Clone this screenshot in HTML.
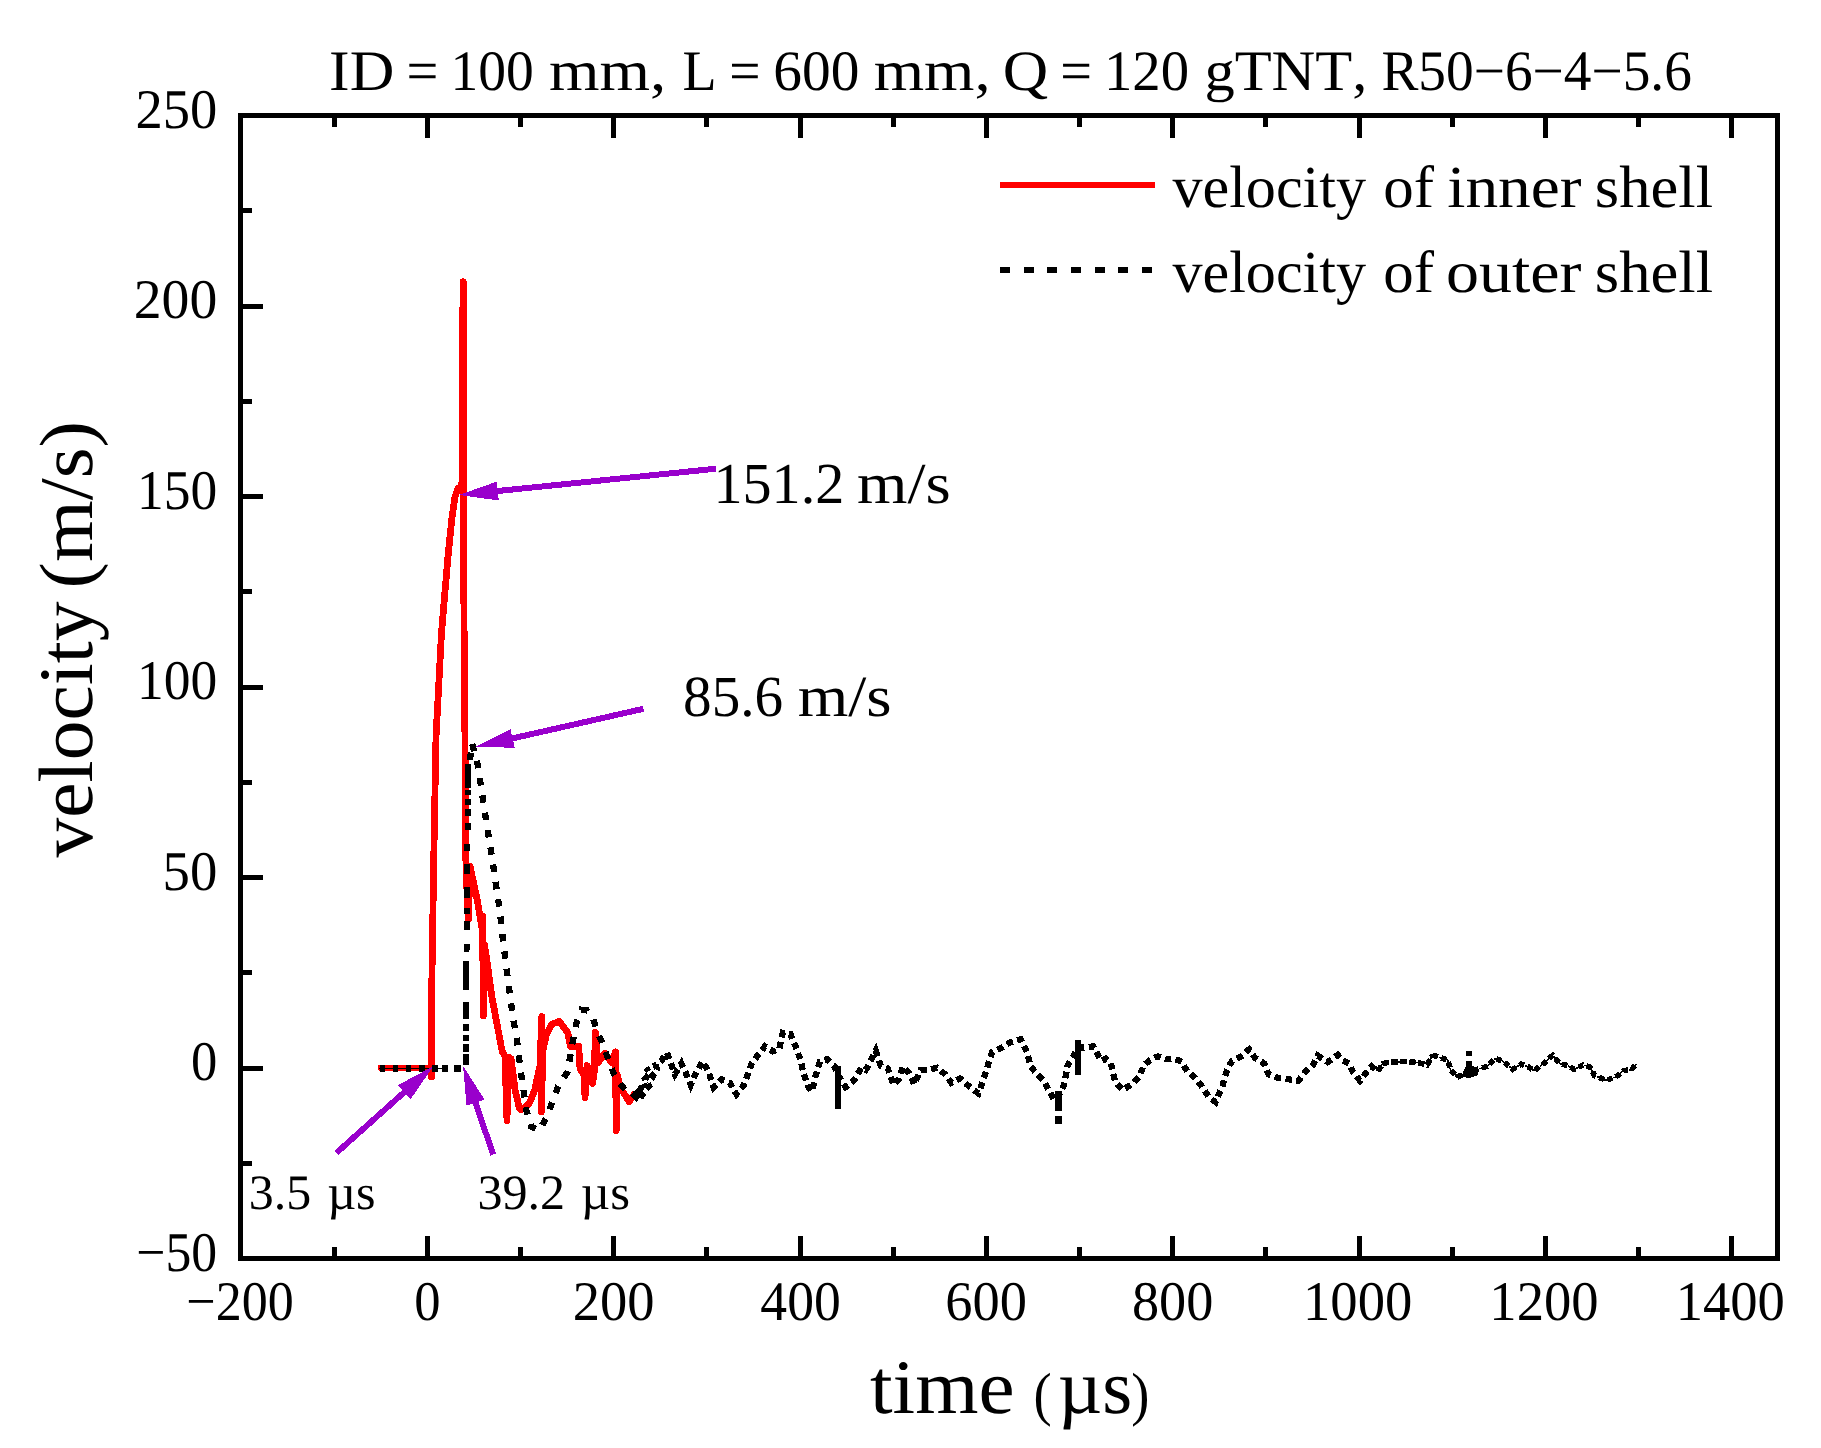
<!DOCTYPE html>
<html lang="en"><head><meta charset="utf-8"><title>Velocity of inner and outer shell</title>
<style>html,body{margin:0;padding:0;background:#fff}body{width:1821px;height:1448px;overflow:hidden}svg{display:block}text{font-family:"Liberation Serif", serif;white-space:pre;font-kerning:none;font-variant-ligatures:none;text-rendering:geometricPrecision}</style>
</head><body>
<svg width="1821" height="1448" viewBox="0 0 1821 1448" shape-rendering="crispEdges">
<rect width="1821" height="1448" fill="#fff"/>
<rect x="240.6" y="115.5" width="1537.0" height="1142.9" fill="none" stroke="#000" stroke-width="5"/>
<path d="M334.2 1258.4v-11.5M334.2 115.5v11.5M427.4 1258.4v-22.5M427.4 115.5v22.5M520.6 1258.4v-11.5M520.6 115.5v11.5M613.7 1258.4v-22.5M613.7 115.5v22.5M706.9 1258.4v-11.5M706.9 115.5v11.5M800.0 1258.4v-22.5M800.0 115.5v22.5M893.2 1258.4v-11.5M893.2 115.5v11.5M986.4 1258.4v-22.5M986.4 115.5v22.5M1079.5 1258.4v-11.5M1079.5 115.5v11.5M1172.7 1258.4v-22.5M1172.7 115.5v22.5M1265.8 1258.4v-11.5M1265.8 115.5v11.5M1359.0 1258.4v-22.5M1359.0 115.5v22.5M1452.2 1258.4v-11.5M1452.2 115.5v11.5M1545.3 1258.4v-22.5M1545.3 115.5v22.5M1638.5 1258.4v-11.5M1638.5 115.5v11.5M1731.6 1258.4v-22.5M1731.6 115.5v22.5M240.6 1163.2h11.5M240.6 1068.0h22.5M240.6 972.8h11.5M240.6 877.5h22.5M240.6 782.2h11.5M240.6 687.0h22.5M240.6 591.8h11.5M240.6 496.5h22.5M240.6 401.2h11.5M240.6 306.0h22.5M240.6 210.8h11.5" stroke="#000" stroke-width="5" fill="none"/>
<polyline points="381.0,1067.9 431.0,1067.9 431.5,1076.8 431.7,992.0 433.8,857.0 436.0,737.0 441.5,633.0 447.7,559.7 451.8,519.0 454.9,497.0 458.0,488.5 460.8,489.5 462.2,480.0 462.2,368.0 463.2,281.8 463.4,540.0 466.0,872.0 468.5,919.0 470.0,866.0 477.0,898.7 481.9,927.7 482.6,916.0 483.3,1016.0 484.5,945.0 487.7,966.4 491.6,995.4 502.2,1051.6 505.0,1056.0 507.0,1120.8 508.3,1057.0 511.0,1058.7 515.2,1090.5 519.4,1108.4 521.4,1109.8 529.0,1104.0 534.6,1090.5 540.0,1065.6 541.8,1016.6 541.2,1111.9 543.0,1050.0 546.3,1035.0 552.0,1024.0 559.4,1021.4 567.7,1032.5 570.5,1046.3 578.7,1046.3 580.0,1068.4 584.0,1075.0 585.0,1097.4 587.0,1065.6 592.6,1083.6 594.5,1070.0 595.3,1032.5 598.0,1062.9 605.0,1053.2 611.9,1062.9 615.5,1051.8 616.2,1130.5 617.5,1075.0 620.2,1087.7 629.2,1101.5 634.0,1094.6" fill="none" stroke="#ff0000" stroke-width="6.8" stroke-linejoin="round" stroke-linecap="round"/>
<path d="M379.9 1068.4L384.9 1068.4M393.1 1068.4L398.1 1068.4M405.9 1068.4L410.9 1068.4M419.1 1068.4L424.7 1068.4M432.3 1068.4L437.9 1068.4M442.2 1068.4L448.1 1068.4M454.3 1068.4L461.3 1068.4" stroke="#000" stroke-width="7" fill="none"/>
<path d="M379 1068.5L448 1068.5" stroke="#000" stroke-width="1" fill="none"/>
<path d="M465.7 1054.0L465.6 1064.9M465.8 1044.3L465.7 1051.6M465.8 1034.6L465.8 1040.7M465.9 1023.8L465.9 1031.0M466.1 1002.0L466.0 1018.9M466.4 960.9L466.2 989.9M466.6 944.0L466.5 952.4M466.7 921.0L466.7 929.5M466.9 907.7L466.8 913.8M467.0 887.2L466.9 898.0M467.2 864.2L467.1 873.9M467.4 843.6L467.3 850.9M467.5 823.1L467.5 830.3M467.6 808.6L467.6 815.8M467.7 798.9L467.7 805.0M467.8 790.4L467.7 795.3M468.0 763.8L467.8 788.0" fill="none" stroke="#000" stroke-width="6"/>
<polyline points="470.0,760.0 472.0,743.3 478.0,766.0 484.8,812.0 492.5,860.6 499.8,911.0 503.4,944.0 508.3,982.7 513.0,1017.7 516.7,1038.0 521.0,1073.0 524.2,1094.6 526.3,1109.8 531.1,1126.4 539.4,1130.5 547.0,1116.0 553.2,1100.0 558.0,1086.3 564.3,1076.7 567.7,1071.8 569.8,1058.7 573.2,1039.4 576.7,1022.0 581.5,1009.7 587.0,1010.4 593.2,1018.7 596.7,1031.0 602.2,1042.0 608.4,1060.0 613.3,1072.5 618.8,1082.2 625.7,1090.5 632.6,1093.2" fill="none" stroke="#000" stroke-width="6.3" stroke-dasharray="7.5 10"/>
<polyline points="632.6,1093.2 636.0,1097.0 641.0,1088.0 635.0,1090.0 640.0,1099.0 644.0,1092.0 649.0,1086.0 645.0,1079.0 650.0,1073.0 646.0,1068.0 653.0,1076.0 657.0,1069.0 655.7,1065.0 661.0,1061.0 667.1,1052.8 670.7,1062.8 675.0,1074.2 681.4,1063.5 685.7,1072.8 690.7,1084.9 695.7,1073.5 702.8,1061.4 709.2,1073.5 713.5,1087.1 721.4,1079.2 729.9,1082.8 736.4,1094.2 743.5,1085.7 747.8,1074.2 751.4,1064.2 757.0,1056.4 764.9,1046.4 772.8,1051.4 779.2,1049.3 782.8,1032.8 790.6,1034.3 797.0,1050.0 800.6,1060.7 803.5,1072.8 808.5,1087.1 812.0,1091.4 815.6,1075.7 819.9,1061.4 827.0,1059.2 834.2,1065.7 838.0,1075.0 845.6,1087.1 854.2,1080.0 861.3,1067.8 865.7,1070.0 870.7,1060.7 875.7,1050.7 880.7,1065.7 887.8,1068.5 893.6,1084.9 899.3,1078.5 902.8,1066.4 909.3,1073.5 914.3,1084.2 920.7,1070.0 928.5,1070.0 937.1,1067.8 945.0,1074.2 951.4,1082.8 960.0,1078.5 969.2,1086.4 978.5,1093.5 984.2,1077.1 987.8,1065.7 992.1,1052.1 1001.3,1047.8 1010.6,1042.1 1020.6,1039.3 1027.0,1052.1 1030.6,1066.4 1037.0,1074.2 1043.5,1080.7 1049.9,1092.1 1054.2,1099.9 1058.5,1096.0 1063.5,1086.4 1065.6,1076.4 1067.7,1065.0 1073.4,1056.4 1078.0,1048.0 1087.0,1047.1 1093.4,1046.4 1101.3,1060.7 1105.6,1058.5 1110.7,1062.8 1112.8,1071.4 1115.0,1081.4 1122.8,1089.9 1132.8,1083.5 1140.0,1075.7 1143.5,1065.7 1150.0,1060.0 1157.8,1056.4 1166.4,1059.2 1174.2,1058.5 1182.1,1062.1 1187.1,1071.4 1194.2,1077.1 1201.4,1085.7 1209.2,1097.8 1215.6,1102.1 1222.8,1084.9 1227.0,1070.0 1232.0,1060.7 1241.3,1056.4 1249.2,1049.3 1254.9,1057.8 1264.2,1063.5 1268.5,1074.2 1277.8,1077.8 1287.8,1079.2 1298.5,1080.7 1305.6,1071.4 1312.7,1065.7 1317.7,1055.7 1327.7,1062.1 1337.7,1055.0 1342.1,1060.0 1349.3,1063.5 1352.8,1072.1 1360.0,1080.7 1367.1,1071.4 1371.4,1066.4 1377.8,1071.4" fill="none" stroke="#000" stroke-width="6.3" stroke-dasharray="6.5 4.5"/>
<polyline points="1377.8,1071.4 1382.8,1063.5 1390.7,1062.1 1407.1,1061.4 1418.5,1062.8 1427.1,1065.0 1432.8,1055.0 1440.7,1057.8 1447.8,1060.0 1450.7,1070.0 1457.1,1077.1 1464.2,1074.2 1469.2,1070.0 1477.8,1069.2 1487.1,1066.4 1494.9,1058.5 1502.0,1060.7 1512.8,1069.2 1521.3,1064.2 1528.5,1067.1 1534.2,1070.7 1543.5,1063.6 1552.7,1055.4 1560.2,1063.6 1568.1,1065.8 1574.3,1069.3 1583.1,1064.9 1590.1,1067.1 1594.5,1075.5 1605.9,1080.3 1615.6,1077.2 1623.5,1070.6 1631.4,1069.8 1636.5,1064.0" fill="none" stroke="#000" stroke-width="1.6" stroke-dasharray="13 5"/>
<polyline points="1377.8,1071.4 1382.8,1063.5 1390.7,1062.1 1407.1,1061.4 1418.5,1062.8 1427.1,1065.0 1432.8,1055.0" fill="none" stroke="#000" stroke-width="5.6" stroke-dasharray="6.5 2.5"/>
<polyline points="1432.8,1055.0 1440.7,1057.8 1447.8,1060.0 1450.7,1070.0 1457.1,1077.1 1464.2,1074.2 1469.2,1070.0 1477.8,1069.2 1487.1,1066.4 1494.9,1058.5 1502.0,1060.7 1512.8,1069.2 1521.3,1064.2 1528.5,1067.1 1534.2,1070.7 1543.5,1063.6 1552.7,1055.4 1560.2,1063.6 1568.1,1065.8 1574.3,1069.3 1583.1,1064.9 1590.1,1067.1 1594.5,1075.5 1605.9,1080.3 1615.6,1077.2 1623.5,1070.6 1631.4,1069.8 1636.5,1064.0" fill="none" stroke="#000" stroke-width="5.6" stroke-dasharray="5.5 3.5"/>
<polygon points="1461,1077 1466,1066 1473,1066 1479,1070 1478,1075 1470,1078" fill="#000"/>
<path d="M838 1065.7L838 1108.5M1058.5 1091.4L1058.5 1110.6M1058.5 1115.6L1058.5 1123.5M1078 1040L1078 1075M1469.2 1051.4L1469.2 1056.4M1469.2 1061.4L1469.2 1076.4" stroke="#000" stroke-width="6.4" fill="none"/>
<line x1="999.8" y1="185" x2="1155" y2="185" stroke="#ff0000" stroke-width="6"/>
<line x1="999.8" y1="269.7" x2="1152" y2="269.7" stroke="#000" stroke-width="6" stroke-dasharray="10 13.7"/>
<line x1="716.2" y1="468.7" x2="495.8" y2="491.2" stroke="#9900cc" stroke-width="6"/><polygon points="459.0,495.0 496.8,481.6 498.8,500.5" fill="#9900cc"/>
<line x1="643.4" y1="708.8" x2="510.7" y2="738.8" stroke="#9900cc" stroke-width="6"/><polygon points="474.6,747.0 510.5,729.1 514.7,747.7" fill="#9900cc"/>
<line x1="336.4" y1="1152.9" x2="405.6" y2="1091.0" stroke="#9900cc" stroke-width="6"/><polygon points="433.2,1066.3 410.5,1099.4 397.8,1085.2" fill="#9900cc"/>
<line x1="493.2" y1="1154.6" x2="474.9" y2="1100.8" stroke="#9900cc" stroke-width="6"/><polygon points="463.0,1065.8 484.6,1099.7 466.6,1105.8" fill="#9900cc"/>
<g font-family='"Liberation Serif", serif' fill="#000" shape-rendering="auto">
<text transform="translate(329.07,89.70) scale(1.0803,1)" font-size="57.20">ID</text>
<text transform="translate(406.49,89.70) scale(0.9881,1)" font-size="57.20">=</text>
<text transform="translate(450.42,89.70) scale(0.9708,1)" font-size="57.20">100</text>
<text transform="translate(549.04,89.70) scale(1.1362,1)" font-size="57.20">mm,</text>
<text transform="translate(682.39,89.70) scale(0.9780,1)" font-size="57.20">L</text>
<text transform="translate(729.24,89.70) scale(0.9693,1)" font-size="57.20">=</text>
<text transform="translate(773.34,89.70) scale(1.0029,1)" font-size="57.20">600</text>
<text transform="translate(873.64,89.70) scale(1.1332,1)" font-size="57.20">mm,</text>
<text transform="translate(1002.72,89.70) scale(1.1004,1)" font-size="57.20">Q</text>
<text transform="translate(1060.20,89.70) scale(0.9843,1)" font-size="57.20">=</text>
<text transform="translate(1103.91,89.70) scale(0.9924,1)" font-size="57.20">120</text>
<text transform="translate(1204.40,89.70) scale(1.0572,1)" font-size="57.20">gTNT,</text>
<text transform="translate(1381.40,89.70) scale(0.9679,1)" font-size="57.20">R50−6−4−5.6</text>
<text transform="translate(1172.40,207.10) scale(1.0075,1)" font-size="59.67">velocity</text>
<text transform="translate(1383.28,207.10) scale(1.0204,1)" font-size="59.67">of</text>
<text transform="translate(1447.23,207.10) scale(1.0958,1)" font-size="59.67">inner</text>
<text transform="translate(1594.83,207.10) scale(1.0491,1)" font-size="59.67">shell</text>
<text transform="translate(1172.40,292.40) scale(1.0075,1)" font-size="59.67">velocity</text>
<text transform="translate(1383.28,292.40) scale(1.0204,1)" font-size="59.67">of</text>
<text transform="translate(1446.09,292.40) scale(1.1052,1)" font-size="59.67">outer</text>
<text transform="translate(1594.83,292.40) scale(1.0491,1)" font-size="59.67">shell</text>
<text transform="translate(713.39,502.90) scale(1.0017,1)" font-size="58.09">151.2</text>
<text transform="translate(856.94,502.90) scale(1.1165,1)" font-size="58.09">m/s</text>
<text transform="translate(683.12,715.50) scale(0.9810,1)" font-size="58.24">85.6</text>
<text transform="translate(797.74,715.50) scale(1.1161,1)" font-size="58.24">m/s</text>
<text transform="translate(248.71,1208.60) scale(1.0092,1)" font-size="49.50">3.5</text>
<text transform="translate(327.18,1208.60) scale(1.0136,1)" font-size="49.50">µs</text>
<text transform="translate(477.50,1208.60) scale(1.0120,1)" font-size="49.50">39.2</text>
<text transform="translate(580.86,1208.60) scale(1.0271,1)" font-size="49.50">µs</text>
<text transform="translate(186.29,1320.40) scale(0.9287,1)" font-size="56.02">−200</text>
<text transform="translate(414.25,1320.40) scale(0.9393,1)" font-size="56.02">0</text>
<text transform="translate(572.67,1320.40) scale(0.9732,1)" font-size="56.02">200</text>
<text transform="translate(760.34,1320.40) scale(0.9567,1)" font-size="56.02">400</text>
<text transform="translate(945.37,1320.40) scale(0.9725,1)" font-size="56.02">600</text>
<text transform="translate(1131.96,1320.40) scale(0.9692,1)" font-size="56.02">800</text>
<text transform="translate(1303.00,1320.40) scale(0.9755,1)" font-size="56.02">1000</text>
<text transform="translate(1489.32,1320.40) scale(0.9755,1)" font-size="56.02">1200</text>
<text transform="translate(1675.64,1320.40) scale(0.9755,1)" font-size="56.02">1400</text>
<text transform="translate(136.33,1270.60) scale(0.9228,1)" font-size="56.02">−50</text>
<text transform="translate(190.90,1080.10) scale(0.9393,1)" font-size="56.02">0</text>
<text transform="translate(162.52,889.60) scale(0.9777,1)" font-size="56.02">50</text>
<text transform="translate(137.00,699.10) scale(0.9549,1)" font-size="56.02">100</text>
<text transform="translate(137.00,508.60) scale(0.9549,1)" font-size="56.02">150</text>
<text transform="translate(133.75,318.10) scale(0.9946,1)" font-size="56.02">200</text>
<text transform="translate(135.50,127.60) scale(0.9732,1)" font-size="56.02">250</text>
<text transform="translate(870.01,1413.10) scale(1.0550,1)" font-size="77.13">time</text>
<text transform="translate(1033.60,1413.60) scale(0.9187,1)" font-size="59.33">(</text>
<text transform="translate(1057.82,1413.10) scale(0.9988,1)" font-size="77.13">µs</text>
<text transform="translate(1131.34,1413.60) scale(0.9187,1)" font-size="59.33">)</text>
<text transform="translate(91.70,857.40) rotate(-90) scale(1.0307,1)" font-size="77.11">velocity</text>
<text transform="translate(92.20,588.38) rotate(-90) scale(1.0459,1)" font-size="75.81">(m/s)</text>
</g></svg>
</body></html>
